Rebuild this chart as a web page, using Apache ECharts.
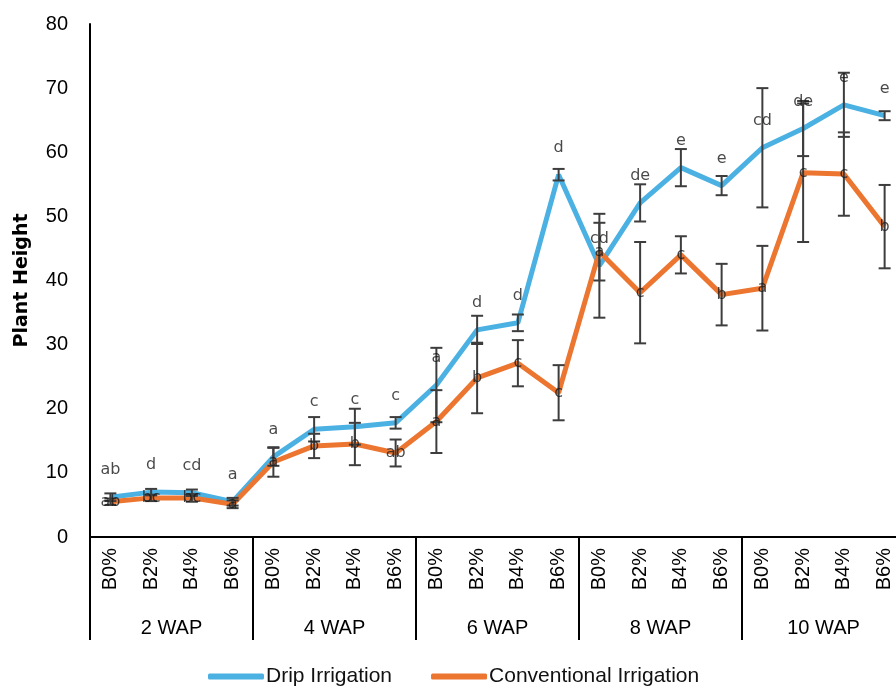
<!DOCTYPE html>
<html>
<head>
<meta charset="utf-8">
<script src="https://cdn.jsdelivr.net/npm/echarts@6/dist/echarts.min.js"></script>
<style>
html,body{margin:0;padding:0;background:#fff;}
#chart{width:896px;height:688px;}
</style>
</head>
<body>
<div id="chart"></div>
<script>
const categories = ['B0%','B2%','B4%','B6%','B0%','B2%','B4%','B6%','B0%','B2%','B4%','B6%','B0%','B2%','B4%','B6%','B0%','B2%','B4%','B6%'];
const groups = ['2 WAP','4 WAP','6 WAP','8 WAP','10 WAP'];
const yTicks = [0,10,20,30,40,50,60,70,80];

const drip = [6.2,7.0,6.9,5.5, 12.5,16.8,17.2,17.8, 23.7,32.3,33.4,56.5, 42.3,52.1,57.6,54.8, 60.7,63.7,67.4,65.7];
const dripErr = [0.6,0.5,0.5,0.6, 1.4,1.9,2.8,0.9, 5.8,2.2,1.3,0.9, 8.1,2.9,2.9,1.5, 9.3,4.3,5.0,0.7];
const dripLetters = ['ab','d','cd','a', 'a','c','c','c', 'a','d','d','d', 'cd','de','e','e', 'cd','de','e','e'];

const conv = [5.5,6.1,6.1,5.1, 11.7,14.2,14.5,13.1, 18.0,24.8,27.1,22.5, 44.5,38.1,44.0,37.8, 38.8,56.8,56.6,48.4];
const convErr = [0.5,0.5,0.6,0.6, 2.3,1.9,3.3,2.1, 4.9,5.5,3.6,4.3, 4.5,7.9,2.9,4.8, 6.6,10.8,6.5,6.5];
const convLetters = ['ab','bc','bc','a', 'a','b','b','ab', 'a','b','c','c', 'a','c','c','b', 'a','c','c','b'];

const BLUE = '#4BB1E3';
const ORANGE = '#EC7530';

function errData(vals, errs){
  return vals.map((v,i)=>[i, v-errs[i], v+errs[i]]);
}
function errRender(params, api){
  const x = api.value(0);
  const lo = api.coord([x, api.value(1)]);
  const hi = api.coord([x, api.value(2)]);
  const w = 6;
  const style = {stroke:'#3d3d3d', lineWidth:2};
  return {type:'group', children:[
    {type:'line', shape:{x1:lo[0],y1:lo[1],x2:hi[0],y2:hi[1]}, style:style},
    {type:'line', shape:{x1:lo[0]-w,y1:lo[1],x2:lo[0]+w,y2:lo[1]}, style:style},
    {type:'line', shape:{x1:hi[0]-w,y1:hi[1],x2:hi[0]+w,y2:hi[1]}, style:style}
  ]};
}

const chart = echarts.init(document.getElementById('chart'));
chart.setOption({
  animation:false,
  grid:{left:90, width:815, top:24, bottom:151, containLabel:false, outerBoundsMode:'none'},
  legend:{
    data:['Drip Irrigation','Conventional Irrigation'],
    top:661, left:203,
    icon:'roundRect', itemWidth:56, itemHeight:6, itemGap:39,
    textStyle:{fontSize:21, fontFamily:'Liberation Sans', color:'#111', padding:[0,0,0,-3]}
  },
  xAxis:[
    {type:'category', data:categories, boundaryGap:true,
     axisLine:{lineStyle:{color:'#000', width:2}},
     axisTick:{show:false},
     axisLabel:{rotate:90, interval:0, fontSize:20, fontFamily:'Liberation Sans', color:'#000', margin:11}},
    {type:'category', data:groups, position:'bottom', boundaryGap:true,
     axisLine:{show:false},
     axisTick:{show:true, interval:0, length:103, lineStyle:{color:'#000', width:2}},
     axisLabel:{interval:0, margin:81, fontSize:20, fontFamily:'Liberation Sans', color:'#000'}}
  ],
  yAxis:{type:'value', min:yTicks[0], max:yTicks[yTicks.length-1], interval:10,
    axisLine:{show:true, lineStyle:{color:'#000', width:2}},
    axisTick:{show:false}, splitLine:{show:false},
    axisLabel:{fontSize:20, fontFamily:'Liberation Sans', color:'#000', margin:22},
    name:'Plant Height', nameLocation:'middle', nameGap:58,
    nameTextStyle:{fontWeight:'bold', fontSize:19, fontFamily:'DejaVu Sans', color:'#000'}
  },
  series:[
    {name:'Drip Irrigation', type:'line', data:drip, xAxisIndex:0, color:BLUE,
     lineStyle:{width:5, color:BLUE}, symbol:'none', z:2},
    {name:'Conventional Irrigation', type:'line', data:conv, xAxisIndex:0, color:ORANGE,
     lineStyle:{width:5, color:ORANGE}, symbol:'none', z:2},
    {type:'custom', xAxisIndex:0, data:errData(drip, dripErr), renderItem:errRender, z:3, silent:true},
    {type:'custom', xAxisIndex:0, data:errData(conv, convErr), renderItem:errRender, z:3, silent:true},
    {type:'scatter', xAxisIndex:0, data:drip, symbolSize:2, itemStyle:{color:'rgba(0,0,0,0)'}, z:4,
     label:{show:true, position:'top', distance:18, fontSize:16, fontFamily:'DejaVu Sans', color:'#1a1a1a',
       formatter:p=>dripLetters[p.dataIndex]}},
    {type:'scatter', xAxisIndex:0, data:conv, symbolSize:2, itemStyle:{color:'rgba(0,0,0,0)'}, z:4,
     label:{show:true, position:'inside', fontSize:16, fontFamily:'DejaVu Sans', color:'#1a1a1a',
       formatter:p=>convLetters[p.dataIndex]}}
  ]
});
</script>
</body>
</html>
